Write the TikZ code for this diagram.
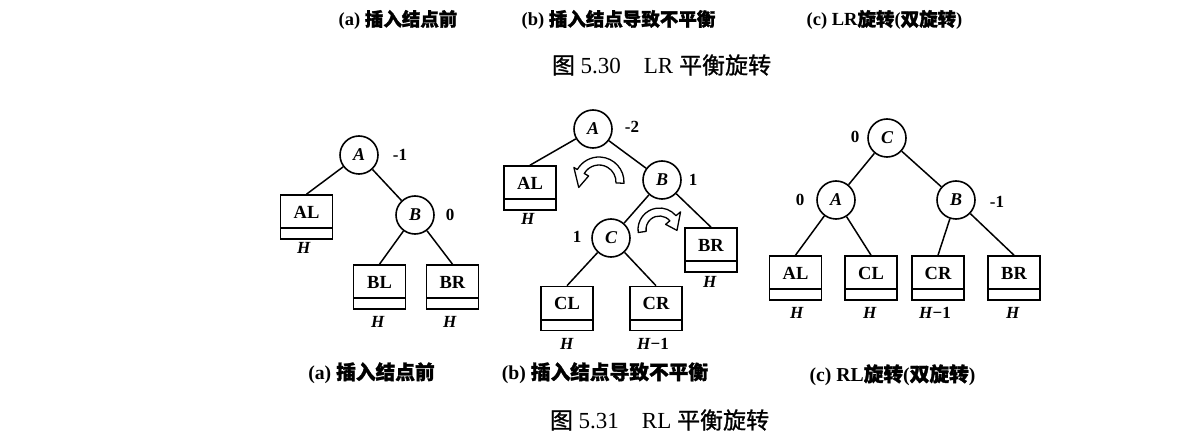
\documentclass[tikz,border=0pt]{standalone}
\usepackage{fontspec}
\setmainfont{Liberation Serif}
\newfontfamily\cjk[FakeBold=1]{Noto Sans CJK SC}
\newfontfamily\cjkb[FakeBold=1.5]{Noto Sans CJK SC}
\begin{document}
\begin{tikzpicture}[x=1pt,y=-1pt,
  nd/.style={circle, draw, line width=1.6pt, minimum size=38pt, inner sep=0pt, font=\fontsize{18}{18}\selectfont\bfseries\itshape},
  sub/.style={rectangle, draw, line width=1.6pt, minimum width=52pt, minimum height=44pt, inner sep=0pt,
    font=\fontsize{18.5}{18.5}\selectfont\bfseries,
    path picture={\draw[line width=2pt] ([yshift=11pt]path picture bounding box.south west) -- ([yshift=11pt]path picture bounding box.south east);}},
  num/.style={inner sep=0pt, font=\fontsize{17}{17}\selectfont\bfseries},
  hgt/.style={inner sep=0pt, font=\fontsize{17}{17}\selectfont\bfseries},
  edge/.style={line width=1.5pt},
  rot/.style={draw, fill=white, line width=1.3pt, line join=round},
  capA/.style={inner sep=0pt, font=\fontsize{18.5}{18.5}\selectfont},
  capB/.style={inner sep=0pt, font=\fontsize{19.7}{19.7}\selectfont},
  ttl/.style={inner sep=0pt, font=\fontsize{23}{23}\selectfont}]
\useasboundingbox (0,0) rectangle (1196,446);
\fill[white] (0,0) rectangle (1196,446);

% top captions (Fig 5.30)
\node[capA] (capTa) at (398,20) {\bfseries (a) {\cjkb 插入结点前}};
\node[capA] (capTb) at (618.5,20) {\bfseries (b) {\cjkb 插入结点导致不平衡}};
\node[capA] (capTc) at (884.5,20) {\bfseries (c) LR{\cjkb 旋转}({\cjkb 双旋转})};
\node[ttl] (title1) at (661.5,65) {{\cjk 图} 5.30\quad LR {\cjk 平衡旋转}};

% panel (a)
\node[nd] (aA) at (359,155) {A};
\node[num] (aAbf) at (400,155) {-1};
\node[sub] (aAL) at (306.5,217) {\raisebox{5pt}[\height][\depth]{AL}};
\node[hgt] (aALh) at (304,248) {\textit{H}};
\node[nd] (aB) at (415,215) {B};
\node[num] (aBbf) at (450,215) {0};
\node[sub] (aBL) at (379.5,287) {\raisebox{5pt}[\height][\depth]{BL}};
\node[hgt] (aBLh) at (378,322) {\textit{H}};
\node[sub] (aBR) at (452.5,287) {\raisebox{5pt}[\height][\depth]{BR}};
\node[hgt] (aBRh) at (450,322) {\textit{H}};
\draw[edge] (aA) -- (aAL.north);
\draw[edge] (aA) -- (aB);
\draw[edge] (aB) -- (aBL.north);
\draw[edge] (aB) -- (aBR.north);

% panel (b)
\node[nd] (bA) at (593,129) {A};
\node[num] (bAbf) at (632,127) {-2};
\node[sub] (bAL) at (530,188) {\raisebox{5pt}[\height][\depth]{AL}};
\node[hgt] (bALh) at (528,219) {\textit{H}};
\node[nd] (bB) at (662,180) {B};
\node[num] (bBbf) at (693,180) {1};
\node[nd] (bC) at (611,238) {C};
\node[num] (bCbf) at (577,237) {1};
\node[sub] (bBR) at (711,250) {\raisebox{5pt}[\height][\depth]{BR}};
\node[hgt] (bBRh) at (710,282) {\textit{H}};
\node[sub] (bCL) at (567,308.5) {\raisebox{5pt}[\height][\depth]{CL}};
\node[hgt] (bCLh) at (567,344) {\textit{H}};
\node[sub] (bCR) at (656,308.5) {\raisebox{5pt}[\height][\depth]{CR}};
\node[hgt] (bCRh) at (653,344) {\textit{H}−1};
\draw[edge] (bA) -- (bAL.north);
\draw[edge] (bA) -- (bB);
\draw[edge] (bB) -- (bC);
\draw[edge] (bB) -- (bBR.north);
\draw[edge] (bC) -- (bCL.north);
\draw[edge] (bC) -- (bCR.north);
% rotation arrows
\begin{scope}[shift={(599,182)}]
\draw[rot] (-3:25pt) arc[start angle=-3, end angle=150, radius=25pt] -- (150:29pt) -- (195:21pt) -- (150:12pt) -- (150:17pt) arc[start angle=150, end angle=-3, radius=17pt] -- cycle;
\end{scope}
\begin{scope}[shift={(659.5,229.5)}]
\draw[rot] (188:21.5pt) arc[start angle=188, end angle=40, radius=21.5pt] -- (40:27.5pt) -- (-3:17.5pt) -- (40:8pt) -- (40:13.5pt) arc[start angle=40, end angle=188, radius=13.5pt] -- cycle;
\end{scope}

% panel (c)
\node[nd] (cC) at (887,138) {C};
\node[num] (cCbf) at (855,137) {0};
\node[nd] (cA) at (836,200) {A};
\node[num] (cAbf) at (800,200) {0};
\node[nd] (cB) at (956,200) {B};
\node[num] (cBbf) at (997,202) {-1};
\node[sub] (cAL) at (795.5,278) {\raisebox{5pt}[\height][\depth]{AL}};
\node[hgt] (cALh) at (797,313) {\textit{H}};
\node[sub] (cCL) at (871,278) {\raisebox{5pt}[\height][\depth]{CL}};
\node[hgt] (cCLh) at (870,313) {\textit{H}};
\node[sub] (cCR) at (938,278) {\raisebox{5pt}[\height][\depth]{CR}};
\node[hgt] (cCRh) at (935,313) {\textit{H}−1};
\node[sub] (cBR) at (1014,278) {\raisebox{5pt}[\height][\depth]{BR}};
\node[hgt] (cBRh) at (1013,313) {\textit{H}};
\draw[edge] (cC) -- (cA);
\draw[edge] (cC) -- (cB);
\draw[edge] (cA) -- (cAL.north);
\draw[edge] (cA) -- (cCL.north);
\draw[edge] (cB) -- (cCR.north);
\draw[edge] (cB) -- (cBR.north);

% bottom captions (Fig 5.31)
\node[capB] (capBa) at (371.5,373) {\bfseries (a) {\cjkb 插入结点前}};
\node[capB] (capBb) at (605,373) {\bfseries (b) {\cjkb 插入结点导致不平衡}};
\node[capB] (capBc) at (892.5,375) {\bfseries (c) RL{\cjkb 旋转}({\cjkb 双旋转})};
\node[ttl] (title2) at (659.5,420) {{\cjk 图} 5.31\quad RL {\cjk 平衡旋转}};
\end{tikzpicture}
\end{document}
